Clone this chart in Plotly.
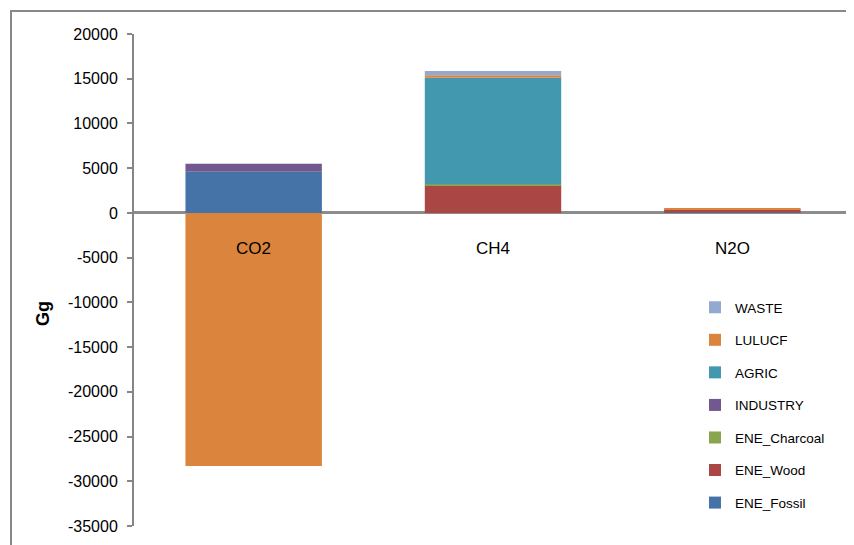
import plotly.graph_objects as go

categories = ["CO2", "CH4", "N2O"]
ene_fossil = [4600, 0, 40]
ene_wood = [0, 3100, 300]
ene_charcoal = [0, 100, 20]
industry = [900, 0, 0]
agric = [0, 11900, 0]
lulucf = [-28300, 300, 180]
waste = [0, 450, 0]

series = [
    ("ENE_Fossil", ene_fossil, "#4572A7"),
    ("ENE_Wood", ene_wood, "#AA4643"),
    ("ENE_Charcoal", ene_charcoal, "#89A54E"),
    ("INDUSTRY", industry, "#71588F"),
    ("AGRIC", agric, "#4198AF"),
    ("LULUCF", lulucf, "#DB843D"),
    ("WASTE", waste, "#93A9CF"),
]
y_ticks = [20000, 15000, 10000, 5000, 0, -5000, -10000, -15000, -20000, -25000, -30000, -35000]
y_tick_text = [str(v) for v in y_ticks]

fig = go.Figure()
n = len(series)
for i, (name, vals, col) in enumerate(series):
    fig.add_trace(go.Bar(x=categories, y=vals, name=name, marker_color=col,
                         marker_line_width=0, width=0.57, legendgroup=name,
                         legendrank=n - i))

OFF = 8  # page body offset
W, H = 854, 545
# target plot area in screenshot pixels
PX0, PX1, PY0, PY1 = 134, 852, 34, 526
L = PX0 - OFF
T = PY0 - OFF
R = OFF + W - PX1
B = OFF + H - PY1
pw, ph = PX1 - PX0, PY1 - PY0

def px2paper_x(px):
    return (px - PX0) / pw

def px2paper_y(py):
    return (PY1 - py) / ph

fig.update_layout(
    width=W, height=H,
    margin=dict(l=L, r=R, t=T, b=B),
    paper_bgcolor="white", plot_bgcolor="white",
    barmode="relative",
    font=dict(family="Liberation Sans, Arial", color="black"),
    xaxis=dict(showticklabels=False, showline=False, showgrid=False, zeroline=False,
               ticks="", range=[-0.5, 2.5]),
    yaxis=dict(range=[-35000, 20000], tickvals=y_ticks, ticktext=y_tick_text, showgrid=False,
               showline=True, linecolor="#868686", linewidth=2,
               ticks="outside", ticklen=5, tickcolor="#868686", tickwidth=2,
               ticklabelstandoff=6,
               zeroline=True, zerolinecolor="#8c8c8c", zerolinewidth=3,
               tickfont=dict(size=16, family="Liberation Sans, Arial")),
    showlegend=True,
    legend=dict(x=px2paper_x(695), y=px2paper_y(292), xanchor="left", yanchor="top",
                traceorder="grouped", tracegroupgap=12,
                font=dict(size=13.5), itemwidth=30, bgcolor="rgba(0,0,0,0)"),
)

for c in categories:
    fig.add_annotation(x=c, y=0, yref="y", xref="x", text=c, showarrow=False,
                       yanchor="top", yshift=-24, font=dict(size=17))

fig.add_annotation(x=px2paper_x(31), y=px2paper_y(314), xref="paper", yref="paper",
                   text="<b>Gg</b>", textangle=-90, showarrow=False,
                   font=dict(size=18, color="black"))

fig.add_shape(type="rect", xref="paper", yref="paper",
              x0=px2paper_x(11), x1=px2paper_x(900), y0=px2paper_y(600), y1=px2paper_y(11),
              line=dict(color="#888888", width=2), fillcolor="rgba(0,0,0,0)", layer="below")

fig.write_html("out.html")
